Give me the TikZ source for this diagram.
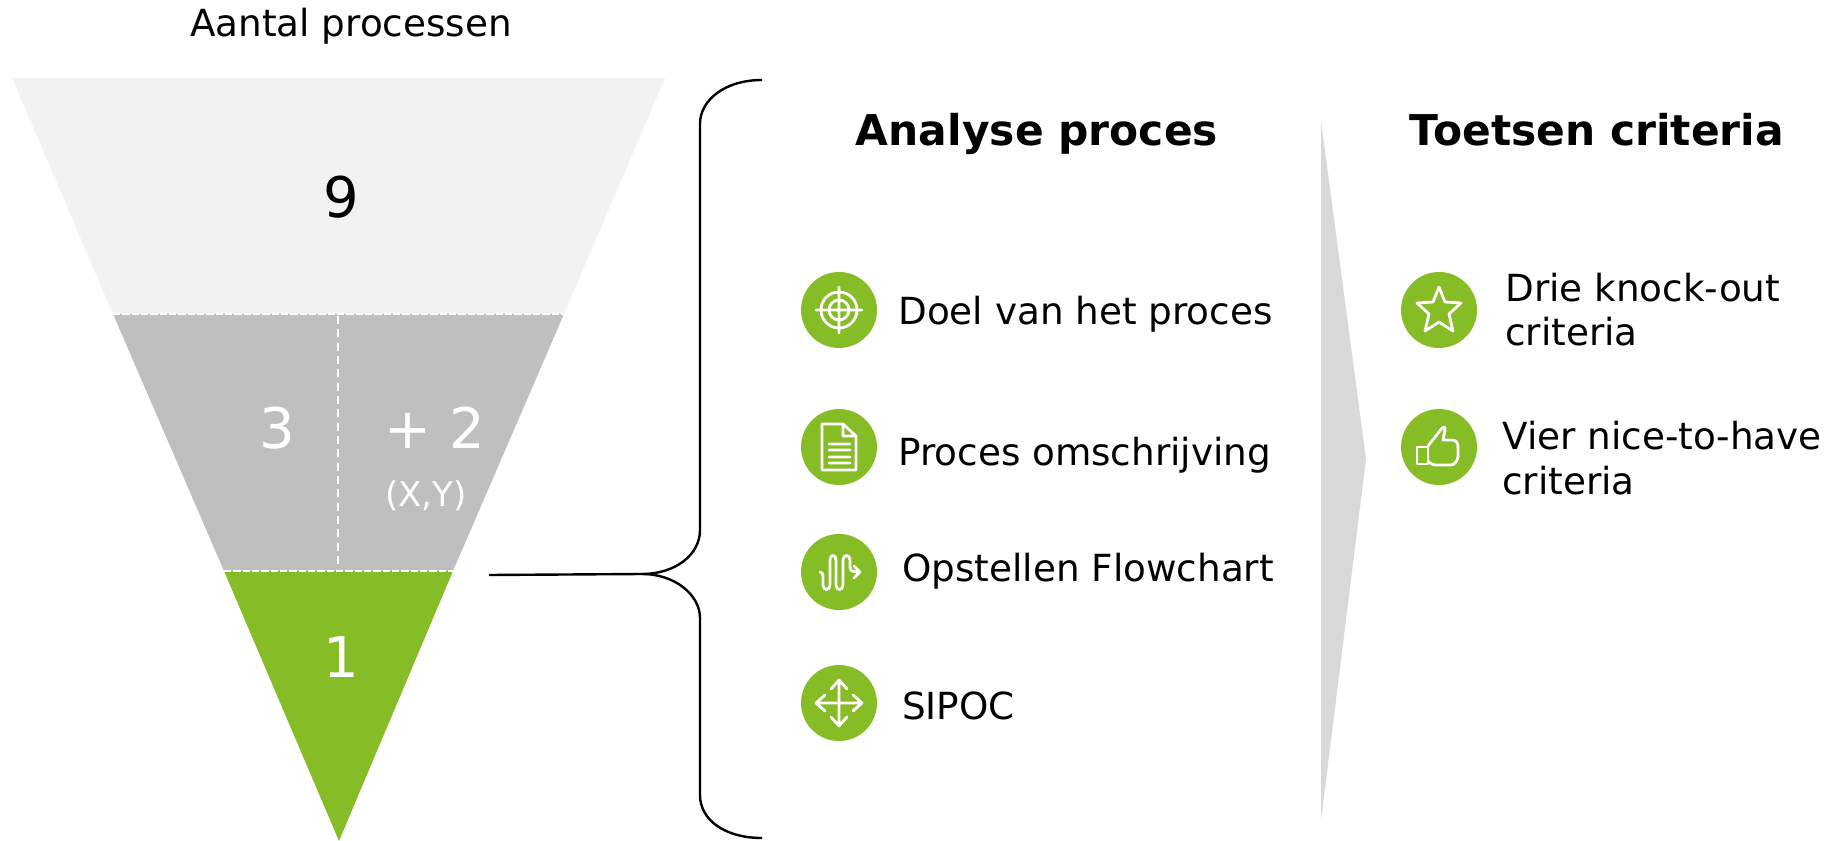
\documentclass[tikz,border=0pt]{standalone}
\usepackage{fontspec}
\setmainfont{DejaVu Sans}
\definecolor{funnelTop}{RGB}{242,242,242}
\definecolor{funnelMid}{RGB}{191,191,191}
\definecolor{funnelGreen}{RGB}{134,188,37}
\definecolor{splitGrey}{RGB}{217,217,217}
\tikzset{
  greendisc/.style={fill=funnelGreen},
  iconline/.style={draw=white,line width=2.1pt,line join=round,line cap=round},
  cutline/.style={draw=white,line width=1.9pt,dash pattern={on 5.5pt off 1.5pt}},
  cutlinev/.style={draw=white,line width=1.9pt,dash pattern={on 6pt off 4pt}},
  bracestroke/.style={line width=1.8pt},
  labeltext/.style={anchor=base west,inner sep=0.75pt,font=\fontsize{28}{33.5}\selectfont,align=left},
  titletext/.style={anchor=base,inner sep=0.75pt,font=\fontsize{31.8}{38}\selectfont\bfseries},
  countbig/.style={anchor=center,inner sep=0.75pt,font=\fontsize{42}{50}\selectfont},
}
\begin{document}
\begin{tikzpicture}[x=0.75pt,y=0.75pt,yscale=-1,xscale=1]
\useasboundingbox (0,0) rectangle (1846,841);

%Shape: Funnel top
\fill [funnelTop] (12,78) -- (665,78) -- (564,314) -- (113,314) -- cycle ;
%Shape: Funnel middle
\fill [funnelMid] (113,314) -- (564,314) -- (453,571) -- (224,571) -- cycle ;
%Shape: Funnel bottom
\fill [funnelGreen] (224,571) -- (453,571) -- (339,841) -- cycle ;
%Straight Lines
\draw [cutline] (113,314) -- (564,314) ;
\draw [cutline] (224,571) -- (453,571) ;
\draw [cutlinev] (338,316) -- (338,569) ;

%Shape: Brace
\draw [bracestroke] (762,80) .. controls (725,80) and (700,100) .. (700,124) -- (700,530) .. controls (700,555) and (675,574) .. (642,574) -- (489,575) ;
\draw [bracestroke] (642,574) .. controls (675,574) and (700,595) .. (700,618) -- (700,795) .. controls (700,820) and (725,838) .. (762,838) ;

%Shape: Split arrow
\fill [splitGrey] (1321,121) -- (1366,459) -- (1321,821) -- cycle ;

%Shape: Icon target
\begin{scope}[shift={(839,310)}]
\fill [greendisc] (0,0) circle [radius=38] ;
\draw [iconline] (0,0) circle [radius=18] (0,0) circle [radius=10] (-23,0) -- (23,0) (0,-23) -- (0,23) ;
\end{scope}
%Shape: Icon document
\begin{scope}[shift={(839,447)}]
\fill [greendisc] (0,0) circle [radius=38] ;
\draw [iconline] (-17,-23) -- (4,-23) -- (17,-11) -- (17,23) -- (-17,23) -- cycle (4,-23) -- (4,-11) -- (17,-11) (-10,-3) -- (11,-3) (-10,3) -- (11,3) (-10,10) -- (11,10) (-10,16) -- (11,16) ;
\end{scope}
%Shape: Icon flowchart
\begin{scope}[shift={(839,572)}]
\fill [greendisc] (0,0) circle [radius=38] ;
\draw [iconline] (-19,0) .. controls (-17,0) and (-16,2) .. (-16,4) -- (-16,13) .. controls (-16,19) and (-9,19) .. (-9,13) -- (-9,-12) .. controls (-9,-18) and (-3,-18) .. (-3,-12) -- (-3,13) .. controls (-3,19) and (4,19) .. (4,13) -- (4,-12) .. controls (4,-18) and (11,-18) .. (11,-12) -- (11,-5) .. controls (11,-1) and (14,0) .. (17,0) -- (21,0) (15,-6) -- (21,0) -- (15,6) ;
\end{scope}
%Shape: Icon arrows
\begin{scope}[shift={(839,703)}]
\fill [greendisc] (0,0) circle [radius=38] ;
\draw [iconline] (-23,0) -- (23,0) (0,-23) -- (0,23) (-14,-8) -- (-23,0) -- (-14,8) (14,-8) -- (23,0) -- (14,8) (-8,-14) -- (0,-23) -- (8,-14) (-8,14) -- (0,23) -- (8,14) ;
\end{scope}
%Shape: Icon star
\begin{scope}[shift={(1439,310)}]
\fill [greendisc] (0,0) circle [radius=38] ;
\draw [iconline] (0,-23) -- (6,-8) -- (22,-7) -- (10,4) -- (14,21) -- (0,12) -- (-14,21) -- (-10,4) -- (-22,-7) -- (-6,-8) -- cycle ;
\end{scope}
%Shape: Icon thumb
\begin{scope}[shift={(1439,447)}]
\fill [greendisc] (0,0) circle [radius=38] ;
\draw [iconline] (-22,0) rectangle (-11,17) ;
\draw [iconline] (-11,-1) -- (0,-15) .. controls (3,-20) and (7,-22) .. (6,-17) -- (4,-7) -- (13,-7) .. controls (17,-7) and (19,-4) .. (19,0) -- (19,9) .. controls (19,14) and (15,18) .. (12,18) -- (-4,18) .. controls (-7,18) and (-9,16) .. (-11,14) ;
\end{scope}

% Text Node
\draw (351,26) node (kop) [anchor=center][inner sep=0.75pt] [font=\fontsize{28}{33}\selectfont] {Aantal processen};
% Text Node
\draw (341,197) node (negen) [countbig] {9};
% Text Node
\draw (277,428) node (drie) [countbig,text=white] {3};
% Text Node
\draw (435,428) node (plustwee) [countbig,text=white] {+ 2};
% Text Node
\draw (426,496) node (xy) [anchor=center][inner sep=0.75pt] [font=\fontsize{25.5}{30}\selectfont,text=white] {(X,Y)};
% Text Node
\draw (341,657) node (een) [countbig,text=white] {1};
% Text Node
\draw (1037,146) node (analyse) [titletext] {Analyse proces};
% Text Node
\draw (1597,146) node (toetsen) [titletext] {Toetsen criteria};
% Text Node
\draw (897,325) node (doel) [labeltext] {Doel van het proces};
% Text Node
\draw (897,465) node (omschrijving) [labeltext] {Proces omschrijving};
% Text Node
\draw (901,581) node (flowchart) [labeltext] {Opstellen Flowchart};
% Text Node
\draw (901,719) node (sipoc) [labeltext] {SIPOC};
% Text Node
\draw (1504,346) node (knockout) [labeltext] {Drie knock-out\\criteria};
% Text Node
\draw (1501,494) node (nicetohave) [labeltext] {Vier nice-to-have\\criteria};
\end{tikzpicture}
\end{document}
